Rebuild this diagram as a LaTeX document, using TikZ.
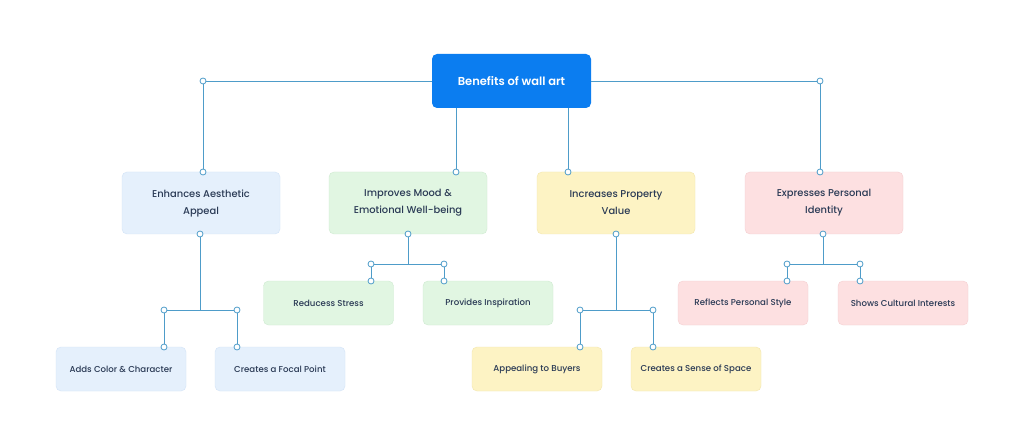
\documentclass[tikz,border=0pt]{standalone}
\usepackage{fontspec}
\setmainfont{Poppins}[UprightFont=* Medium, BoldFont=* SemiBold]
\definecolor{linec}{HTML}{4E9CC9}
\definecolor{rootc}{HTML}{0B7DF0}
\definecolor{txt}{HTML}{2A3A55}
\definecolor{bluef}{HTML}{E5F0FC}\definecolor{blued}{HTML}{D3E3F7}
\definecolor{greenf}{HTML}{E1F6E2}\definecolor{greend}{HTML}{CFEBD1}
\definecolor{yelf}{HTML}{FDF3C4}\definecolor{yeld}{HTML}{F3E6AE}
\definecolor{pinkf}{HTML}{FDE0E1}\definecolor{pinkd}{HTML}{F5CFD1}
\tikzset{
  box/.style={rounded corners=5pt, align=center, text=txt, inner sep=0pt},
  lvl/.style={box, minimum width=158pt, minimum height=62pt, font=\fontsize{9.9}{17}\selectfont},
  leaf/.style={box, minimum width=130pt, minimum height=44pt, font=\fontsize{8.6}{11}\selectfont},
  conn/.style={draw=linec, line width=0.9pt},
  dot/.style={circle, draw=linec, fill=white, line width=0.8pt, minimum size=6pt, inner sep=0pt},
}
\begin{document}
\begin{tikzpicture}[x=1pt,y=-1pt]
\useasboundingbox (0,0) rectangle (1024,446);
\fill[white] (0,0) rectangle (1024,446);
% root
\node[box, fill=rootc, text=white, minimum width=159pt, minimum height=54pt, font=\fontsize{11.5}{13}\selectfont\bfseries] (root) at (511.5,81) {Benefits of wall art};
% level 1
\node[lvl, fill=bluef, draw=blued] (a) at (201,203) {Enhances Aesthetic\\Appeal};
\node[lvl, fill=greenf, draw=greend] (b) at (408,203) {Improves Mood \&\\Emotional Well-being};
\node[lvl, fill=yelf, draw=yeld] (c) at (616,203) {Increases Property\\Value};
\node[lvl, fill=pinkf, draw=pinkd] (d) at (824,203) {Expresses Personal\\Identity};
% leaves
\node[leaf, fill=bluef, draw=blued] (a1) at (121,369) {Adds Color \& Character};
\node[leaf, fill=bluef, draw=blued] (a2) at (280,369) {Creates a Focal Point};
\node[leaf, fill=greenf, draw=greend] (b1) at (328.5,303) {Reducess Stress};
\node[leaf, fill=greenf, draw=greend] (b2) at (488,303) {Provides Inspiration};
\node[leaf, fill=yelf, draw=yeld] (c1) at (537,369) {Appealing to Buyers};
\node[leaf, fill=yelf, draw=yeld] (c2) at (696,369) {Creates a Sense of Space};
\node[leaf, fill=pinkf, draw=pinkd] (d1) at (743,303) {Reflects Personal Style};
\node[leaf, fill=pinkf, draw=pinkd] (d2) at (903,303) {Shows Cultural Interests};
% coordinates
\coordinate (ra) at (203,81); \coordinate (rd) at (820,81);
\coordinate (at) at (203,172); \coordinate (bt) at (456,172);
\coordinate (ct) at (568,172); \coordinate (dt) at (820,172);
\coordinate (rb) at (456,108); \coordinate (rc) at (568,108);
% root connectors
\draw[conn] (root.west) -- (ra) -- (at);
\draw[conn] (root.east) -- (rd) -- (dt);
\draw[conn] (rb) -- (bt);
\draw[conn] (rc) -- (ct);
% a children
\coordinate (ab) at (200,234); \coordinate (aj) at (200,310);
\coordinate (al) at (164,310); \coordinate (ar) at (237,310);
\coordinate (a1t) at (164,347); \coordinate (a2t) at (237,347);
\draw[conn] (ab) -- (aj); \draw[conn] (a1t) -- (al) -- (ar) -- (a2t);
% b children
\coordinate (bb) at (408,234); \coordinate (bj) at (408,264);
\coordinate (bl) at (371,264); \coordinate (br) at (444,264);
\coordinate (b1t) at (371,281); \coordinate (b2t) at (444,281);
\draw[conn] (bb) -- (bj); \draw[conn] (b1t) -- (bl) -- (br) -- (b2t);
% c children
\coordinate (cb) at (616,234); \coordinate (cj) at (616,310);
\coordinate (cl) at (580,310); \coordinate (cr) at (653,310);
\coordinate (c1t) at (580,347); \coordinate (c2t) at (653,347);
\draw[conn] (cb) -- (cj); \draw[conn] (c1t) -- (cl) -- (cr) -- (c2t);
% d children
\coordinate (db) at (823,234); \coordinate (dj) at (823,264);
\coordinate (dl) at (787,264); \coordinate (dr) at (860,264);
\coordinate (d1t) at (787,281); \coordinate (d2t) at (860,281);
\draw[conn] (db) -- (dj); \draw[conn] (d1t) -- (dl) -- (dr) -- (d2t);
% dots
\foreach \p in {ra,rd,at,bt,ct,dt,ab,al,ar,a1t,a2t,bb,bl,br,b1t,b2t,cb,cl,cr,c1t,c2t,db,dl,dr,d1t,d2t}
  \node[dot] at (\p) {};
\end{tikzpicture}
\end{document}
